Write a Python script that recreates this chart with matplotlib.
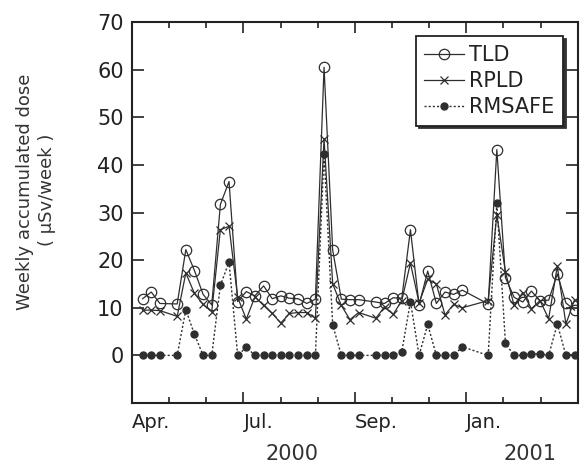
import matplotlib
matplotlib.use('Agg')
import matplotlib.pyplot as plt
import numpy as np

# weekly measurements, week 0 = first week of April 2000 (weeks 3, 26, 38, 39 missing)
weeks = [0, 1, 2, 4, 5, 6, 7, 8, 9, 10, 11, 12, 13, 14, 15, 16, 17, 18, 19, 20,
         21, 22, 23, 24, 25, 27, 28, 29, 30, 31, 32, 33, 34, 35, 36, 37,
         40, 41, 42, 43, 44, 45, 46, 47, 48, 49, 50]

tld = [11.9, 13.3, 10.9, 10.8, 22.2, 17.8, 12.8, 10.6, 31.7, 36.5, 11.3, 13.4,
       12.5, 14.6, 11.9, 12.5, 12.0, 11.9, 10.9, 11.8,
       60.5, 22.1, 11.8, 11.7, 11.7, 11.2, 10.9, 12.1, 12.0, 26.4, 10.6, 17.7,
       10.9, 13.3, 12.8, 13.7,
       10.8, 43.2, 16.3, 12.2, 11.2, 13.5, 11.5, 11.6, 17.1, 11.0, 9.5]

rpld = [9.5, 9.5, 9.4, 8.2, 17.3, 13.0, 10.7, 9.2, 26.4, 27.1, 12.2, 7.6,
        12.3, 10.5, 8.8, 6.8, 8.8, 9.0, 9.0, 7.8,
        45.5, 15.0, 10.5, 7.5, 9.0, 7.8, 10.2, 8.6, 11.5, 19.4, 11.0, 16.0,
        15.0, 8.5, 10.7, 10.0,
        11.5, 29.5, 17.5, 10.5, 13.2, 9.8, 11.5, 7.7, 18.7, 6.6, 11.7]

rmsafe = [0, 0, 0, 0, 9.6, 4.4, 0, 0, 14.7, 19.6, 0, 1.7,
          0, 0, 0, 0, 0, 0, 0, 0,
          42.3, 6.4, 0, 0, 0, 0, 0, 0, 0.8, 11.3, 0, 6.5,
          0, 0, 0, 1.8,
          0, 32.0, 2.5, 0, 0, 0.3, 0.3, 0, 6.6, 0, 0]

month_labels = ["Apr.", "", "", "Jul.", "", "", "Sep.", "", "", "Jan.", "", "", ""]
year_labels = ["2000", "2001"]

# month ticks expressed in weeks
MONTH0 = -1.23
WEEKS_PER_MONTH = 4.30
month_pos = [MONTH0 + m * WEEKS_PER_MONTH for m in range(len(month_labels))]
major_idx = [0, 3, 6, 9]

INK = "#2e2e2e"

fig = plt.figure(figsize=(5.8, 4.65), dpi=100)
ax = fig.add_axes([0.2276, 0.1333, 0.7690, 0.8194])

ax.plot(weeks, tld, color=INK, lw=0.9, marker="o", ms=7.5, mfc="none",
        mec=INK, mew=0.9, label="TLD")
ax.plot(weeks, rpld, color=INK, lw=0.9, marker="x", ms=6, mew=0.9,
        label="RPLD")
ax.plot(weeks, rmsafe, color=INK, lw=1.0, ls=(0, (1.5, 1.5)), marker="o",
        ms=5, mfc=INK, mec=INK, label="RMSAFE")

ax.set_xlim(MONTH0, 50.4)
ax.set_ylim(-10, 70)
ax.set_yticks(np.arange(0, 80, 10))

ax.set_xticks([month_pos[i] for i in major_idx])
ax.set_xticklabels([month_labels[i] for i in major_idx], ha="left",
                   fontsize=14, color="#222222")
ax.set_xticks(month_pos, minor=True)

ax.tick_params(axis="both", which="both", direction="in", top=True,
               right=True, color="#222222", width=1.2)
ax.tick_params(axis="x", which="major", length=8, pad=7)
ax.tick_params(axis="x", which="minor", length=4.3)
ax.tick_params(axis="y", which="major", length=8.5, pad=6, labelsize=15,
               labelcolor="#222222")

for sp in ax.spines.values():
    sp.set_linewidth(1.5)
    sp.set_color("#222222")

leg = ax.legend(loc="upper right", bbox_to_anchor=(0.966, 0.962),
                borderaxespad=0, fontsize=15, handlelength=1.9,
                handletextpad=0.25, labelspacing=0.3, borderpad=0.4,
                fancybox=False, shadow={"color": "#333333", "alpha": 1})
leg.get_frame().set_edgecolor("#222222")
leg.get_frame().set_linewidth(1.3)
for t in leg.get_texts():
    t.set_color("#222222")

fig.text(25 / 580, 1 - 192 / 465, "Weekly accumulated dose", rotation=90,
         ha="center", va="center", fontsize=13, color="#333333")
fig.text(47 / 580, 1 - 190 / 465, "( \u03bcSv/week )", rotation=90,
         ha="center", va="center", fontsize=13, color="#333333")

fig.text(292 / 580, 1 - 454 / 465, year_labels[0], ha="center", va="center",
         fontsize=15, color="#333333")
fig.text(530 / 580, 1 - 454 / 465, year_labels[1], ha="center", va="center",
         fontsize=15, color="#333333")

fig.savefig("out.png", dpi=100)
